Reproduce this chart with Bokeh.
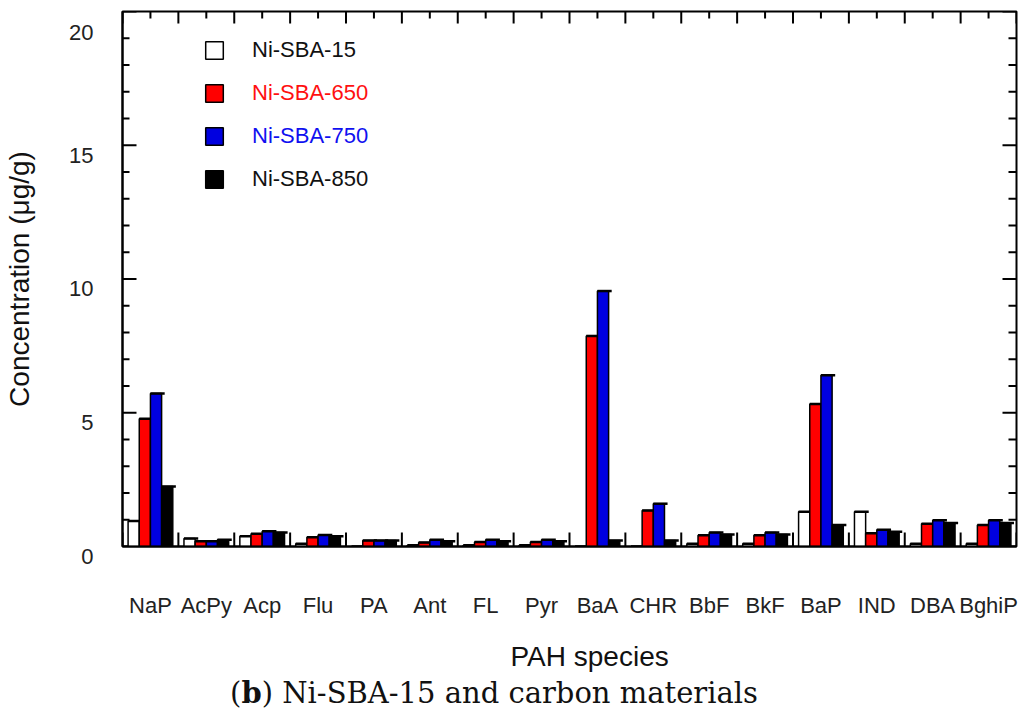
import numpy as np
from bokeh.plotting import figure
from bokeh.layouts import column
from bokeh.models import (Range1d, LinearAxis, FixedTicker, CustomJSTickFormatter, Legend,
                          LegendItem, ColumnDataSource, Div, Title)
from bokeh.embed import file_html
from bokeh.resources import INLINE

# ---- data ----
categories = ["NaP", "AcPy", "Acp", "Flu", "PA", "Ant", "FL", "Pyr", "BaA", "CHR",
              "BbF", "BkF", "BaP", "IND", "DBA", "BghiP"]
ni_sba_15 = [0.95, 0.30, 0.38, 0.10, 0.00, 0.05, 0.05, 0.05, 0.00, 0.00, 0.10, 0.10, 1.30, 1.30, 0.10, 0.10]
ni_sba_650 = [4.78, 0.20, 0.48, 0.35, 0.22, 0.15, 0.17, 0.17, 7.87, 1.35, 0.42, 0.42, 5.33, 0.50, 0.85, 0.80]
ni_sba_750 = [5.72, 0.20, 0.57, 0.43, 0.22, 0.25, 0.25, 0.25, 9.55, 1.60, 0.52, 0.52, 6.40, 0.63, 0.98, 0.98]
ni_sba_850 = [2.24, 0.25, 0.52, 0.38, 0.22, 0.20, 0.20, 0.20, 0.22, 0.22, 0.45, 0.45, 0.80, 0.55, 0.88, 0.88]
series_names = ["Ni-SBA-15", "Ni-SBA-650", "Ni-SBA-750", "Ni-SBA-850"]
y_major_ticks = [0, 5, 10, 15, 20]
y_tick_labels = ["0", "5", "10", "15", "20"]
y_minor_ticks = [v for v in range(0, 21) if v % 5 != 0]

series_values = [ni_sba_15, ni_sba_650, ni_sba_750, ni_sba_850]
fill_colors = ["white", "#FF0000", "#0000E0", "#000000"]
text_colors = ["#111111", "#FF1010", "#1010F0", "#111111"]

n = len(categories)
centers = [i + 0.5 for i in range(n)]
bounds = [float(i) for i in range(n + 1)]
bar_w = 0.2
offsets = [-0.3, -0.1, 0.1, 0.3]

FONT = "Liberation Sans"

p = figure(width=1024, height=689, x_range=Range1d(0, n), y_range=Range1d(0, 20),
           output_backend="svg", toolbar_location=None,
           x_axis_location=None, y_axis_location=None,
           min_border_left=122, min_border_right=8, min_border_top=11, min_border_bottom=141)
p.grid.visible = False
p.outline_line_color = "black"
p.outline_line_width = 2
p.background_fill_color = "white"
p.border_fill_color = "white"

# bottom axis: category names under each group
bottom = LinearAxis(ticker=FixedTicker(ticks=centers, minor_ticks=[]),
                    formatter=CustomJSTickFormatter(args=dict(names=categories),
                                                    code="return names[Math.floor(tick)] || ''"))
bottom.axis_line_width = 2
bottom.major_tick_in = 0
bottom.major_tick_out = 0
bottom.minor_tick_in = 0
bottom.minor_tick_out = 0
bottom.major_label_text_font = FONT
bottom.major_label_text_font_size = "22px"
bottom.major_label_text_color = "#222222"
bottom.major_label_standoff = 46
p.add_layout(bottom, "below")

p.add_layout(Title(text="PAH species", align="left", offset=388, standoff=36,
                   text_font=FONT, text_font_size="28px", text_font_style="normal",
                   text_color="#111111"), "below")

# left axis (labels sit a little below their ticks, as in the original)
left = LinearAxis(ticker=FixedTicker(ticks=y_major_ticks, minor_ticks=[]),
                  formatter=CustomJSTickFormatter(
                      args=dict(labels=y_tick_labels, vals=y_major_ticks),
                      code="const i = vals.indexOf(tick); return '\\n' + (i >= 0 ? labels[i] : '');"))
left.axis_line_width = 2
left.major_tick_in = 0
left.major_tick_out = 0
left.minor_tick_in = 0
left.minor_tick_out = 0
left.major_label_standoff = 29
left.major_label_text_font = FONT
left.major_label_text_font_size = "22px"
left.major_label_text_line_height = 0.78
left.major_label_text_color = "#222222"
left.axis_label = "Concentration (μg/g)"
left.axis_label_standoff = 31
left.axis_label_text_font = FONT
left.axis_label_text_font_size = "28px"
left.axis_label_text_font_style = "normal"
left.axis_label_text_color = "#111111"
p.add_layout(left, "left")

# inward ticks on all four sides
tick_kw = dict(length_units="screen", line_color="black", line_width=2)
p.ray(x=[0] * len(y_major_ticks), y=y_major_ticks, length=14, angle=0, **tick_kw)
p.ray(x=[0] * len(y_minor_ticks), y=y_minor_ticks, length=7, angle=0, **tick_kw)
p.ray(x=[n] * len(y_major_ticks), y=y_major_ticks, length=14, angle=np.pi, **tick_kw)
p.ray(x=[n] * len(y_minor_ticks), y=y_minor_ticks, length=8, angle=np.pi, **tick_kw)
p.ray(x=bounds, y=[20] * len(bounds), length=12, angle=-np.pi / 2, **tick_kw)
p.ray(x=centers, y=[20] * len(centers), length=7, angle=-np.pi / 2, **tick_kw)
p.ray(x=bounds, y=[0] * len(bounds), length=14, angle=np.pi / 2, **tick_kw)

renderers = []
for k, vals in enumerate(series_values):
    xs = np.array(centers) + offsets[k]
    src = ColumnDataSource(dict(x=xs, top=vals,
                                x0=xs - bar_w / 2, x1=xs + bar_w / 2 + 0.055))
    r = p.vbar(x="x", top="top", width=bar_w, bottom=0, source=src,
               fill_color=fill_colors[k], line_color="black", line_width=1.5)
    p.segment(x0="x0", x1="x1", y0="top", y1="top", source=src,
              line_color="black", line_width=2.5)
    renderers.append(r)

legend_y = [483, 440, 397, 354]
for k in range(4):
    leg = Legend(items=[LegendItem(label=series_names[k], renderers=[renderers[k]])],
                 location=(81, legend_y[k]), padding=0, margin=0,
                 border_line_color=None, background_fill_alpha=0,
                 glyph_width=22, glyph_height=22, label_height=22,
                 label_standoff=27, label_text_font=FONT, label_text_font_size="22px",
                 label_text_color=text_colors[k])
    p.add_layout(leg)

caption = Div(text="(<b>b</b>) Ni-SBA-15 and carbon materials", width=988, margin=(-12, 0, 0, 0),
              styles={"text-align": "center", "font-family": "DejaVu Serif",
                      "font-size": "29px", "color": "#111111", "line-height": "1.16"})

layout = column(p, caption, spacing=0)
open("out.html", "w").write(file_html(layout, INLINE))
